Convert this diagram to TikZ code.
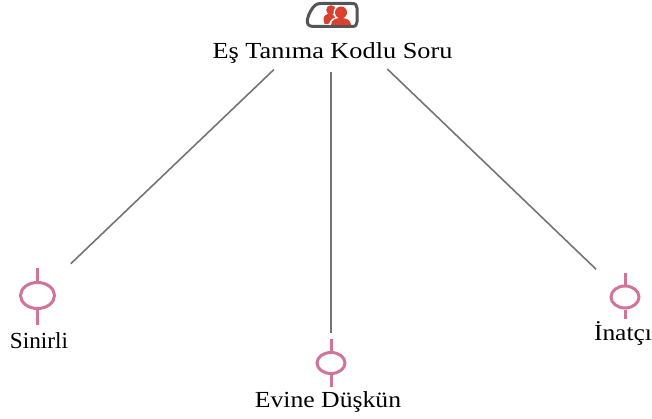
\documentclass[tikz,border=0pt]{standalone}
\usepackage{fontspec}
\setmainfont{Liberation Serif}
\usetikzlibrary{shapes.geometric}
\definecolor{pinkline}{HTML}{D0749C}
\definecolor{linkgrey}{HTML}{747474}
\definecolor{icongrey}{HTML}{555555}
\definecolor{iconred}{HTML}{D9402E}
\tikzset{
  x=1pt,y=-1pt,
  lbl/.style={inner sep=0pt,anchor=base,transform shape,font=\fontsize{23}{25}\selectfont,text=black},
  ring/.style={draw=pinkline,line width=3pt,ellipse,inner sep=0pt},
  stem/.style={draw=pinkline,line width=3pt},
  link/.style={draw=linkgrey,line width=1.6pt},
}
\begin{document}
\begin{tikzpicture}
\useasboundingbox (0,0) rectangle (652,419);
% icon
\coordinate (icon) at (331,15);
\draw[icongrey,line width=3pt,line join=round]
  (321,3.5) -- (352,3.5) .. controls (355.5,3.5) and (357,5) .. (357,8)
  -- (357,22) .. controls (357,25) and (355.5,26.5) .. (352,26.5)
  -- (313,26.5) .. controls (308,26.5) and (306.5,23) .. (307.5,19)
  .. controls (309,13) and (312,8) .. (315,5.5) .. controls (316.5,4) and (318,3.5) .. (321,3.5) -- cycle;
\fill[iconred] (331,10) circle (4.8);
\fill[iconred] (323.5,19) .. controls (323.5,16) and (326,14) .. (331,13)
  -- (336,18) -- (328,24) -- (324.5,24) -- cycle;
\fill[white] (341,12.5) circle (7.5);
\fill[white] (329,25) .. controls (329.5,19) and (335,16.5) .. (341,16.5) -- (341,25) -- cycle;
\fill[iconred] (341,12.5) circle (6);
\fill[iconred] (331,25) .. controls (331.5,20) and (335,18) .. (341,18)
  .. controls (347,18) and (350.5,20) .. (351,25) -- cycle;
% root label
\node[lbl,xscale=1.143] (root) at (332.5,59) {Eş Tanıma Kodlu Soru};
% symbols
\node[ring,minimum width=34pt,minimum height=26pt] (ra) at (37.5,295.5) {};
\node[ring,minimum width=28pt,minimum height=21pt] (rb) at (331,363) {};
\node[ring,minimum width=28pt,minimum height=22pt] (rc) at (625,297) {};
\draw[stem] (ra.north) -- ++(0,-13);
\draw[stem] (ra.south) -- ++(0,15);
\draw[stem] (rb.north) -- ++(0,-12);
\draw[stem] (rb.south) -- ++(0,12);
\draw[stem] (rc.north) -- ++(0,-12);
\draw[stem] (rc.south) -- ++(0,9);
% labels
\node[lbl,xscale=1.01] (la) at (39,348) {Sinirli};
\node[lbl,xscale=1.117] (lb) at (328,407) {Evine Düşkün};
\node[lbl,xscale=1.107] (lc) at (623,340) {İnatçı};
% connectors
\draw[link,shorten <=79pt,shorten >=46pt] (icon) -- (ra.center);
\draw[link,shorten <=57pt,shorten >=30pt] (icon) -- (rb.center);
\draw[link,shorten <=78pt,shorten >=40pt] (icon) -- (rc.center);
\end{tikzpicture}
\end{document}
